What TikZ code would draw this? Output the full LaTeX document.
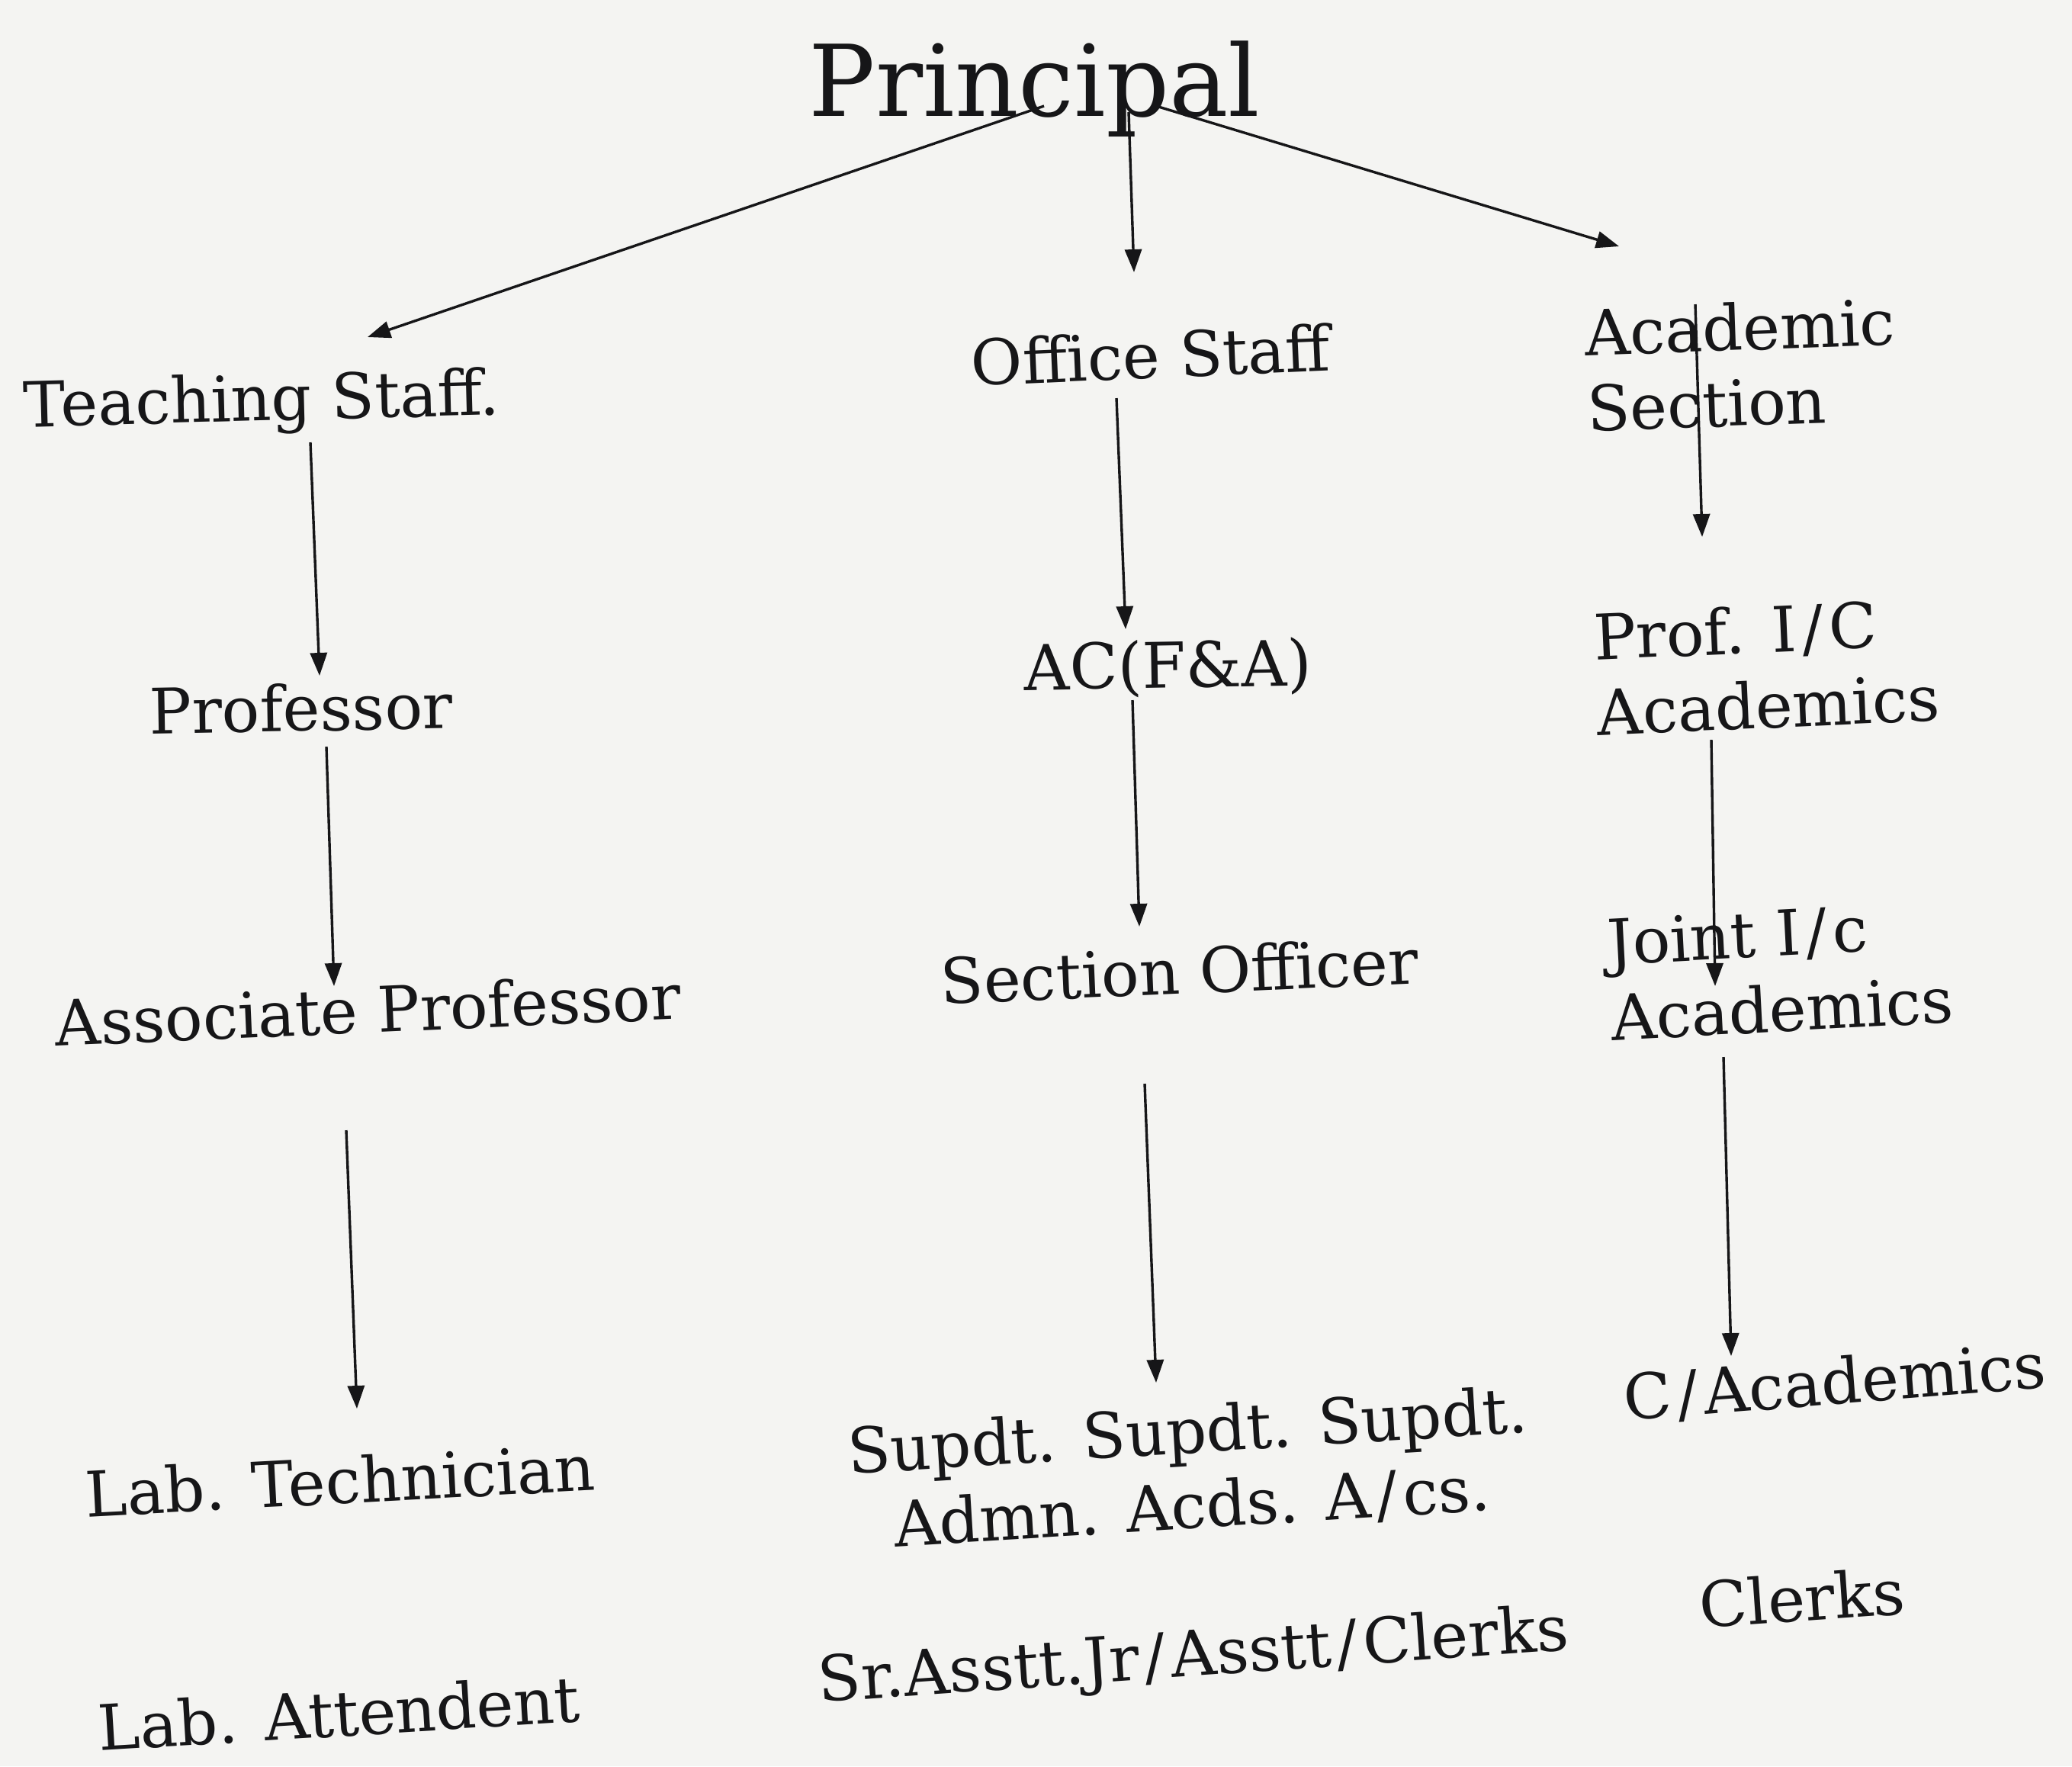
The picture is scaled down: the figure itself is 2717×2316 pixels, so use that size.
\documentclass[tikz,border=0pt]{standalone}
\usepackage{fontspec}
\setmainfont{DejaVu Serif}
\usetikzlibrary{arrows.meta}
\definecolor{paper}{RGB}{244,244,242}
\definecolor{ink}{RGB}{22,22,24}
\newcommand\slsh{\kern1.8pt/\kern1.8pt}
\begin{document}
\begin{tikzpicture}[x=0.25pt,y=-0.25pt,
  lbl/.style={anchor=base west, inner sep=0pt, text=ink, font=\fontsize{20.6}{24.75}\selectfont},
  lbltwo/.style={anchor=north west, inner sep=0pt, text=ink, align=left, font=\fontsize{20.6}{24.75}\selectfont},
  arr/.style={draw=ink, line width=0.85pt, -{Triangle[length=7.5pt,width=5.5pt]}}]
\fill[paper] (0,0) rectangle (2717,2316);
\useasboundingbox (0,0) rectangle (2717,2316);

% labels
\node[lbl, font=\fontsize{32.5}{40}\selectfont] (principal) at (1060,152) {Principal};
\node[lbl, rotate=1.5] (teaching) at (31,560) {Teaching Staff.};
\node[lbl, rotate=2.5] (office) at (1274,506) {Office Staff};
\node[lbltwo, rotate=2] (academic) at (2076,403) {Academic\\Section};
\node[lbl, rotate=1] (prof) at (196,962) {Professor};
\node[lbl, rotate=1] (acfa) at (1343,905) {AC(F\&A)};
\node[lbltwo, rotate=2.5] (profic) at (2088,802) {Prof. I\slsh C\\Academics};
\node[lbl, rotate=2.5] (assoc) at (73,1372) {Associate Professor};
\node[lbl, rotate=2.5] (secoff) at (1234,1317) {Section Officer};
\node[lbltwo, rotate=3] (joint) at (2105,1204) {Joint I\slsh c\\Academics};
\node[lbl, rotate=3] (labtech) at (113,1989) {Lab. Technician};
\node[lbltwo, align=center, anchor=north, rotate=3.5] (supdt) at (1555,1842) {Supdt. Supdt. Supdt.\\Admn. Acds. A\slsh cs.};
\node[lbl, rotate=4.5] (cacad) at (2131,1863) {C\slsh Academics};
\node[lbl, rotate=3.5] (labatt) at (130,2296) {Lab. Attendent};
\node[lbl, rotate=4] (clerksA) at (1074,2232) {Sr.Asstt.Jr\slsh Asstt\slsh Clerks};
\node[lbl, rotate=4] (clerksB) at (2230,2135) {Clerks};

% connector end points
\coordinate (pA) at (1369,139);
\coordinate (tA) at (482,442);
\coordinate (pB) at (1480,147);
\coordinate (oB) at (1487,357);
\coordinate (pC) at (1516,139);
\coordinate (aC) at (2123,323);
\coordinate (t1) at (407,580);
\coordinate (t2) at (419,886);
\coordinate (p1) at (428,979);
\coordinate (p2) at (438,1293);
\coordinate (a1) at (454,1482);
\coordinate (a2) at (468,1847);
\coordinate (o1) at (1464,522);
\coordinate (o2) at (1476,825);
\coordinate (c1) at (1485,918);
\coordinate (c2) at (1494,1215);
\coordinate (s1) at (1501,1421);
\coordinate (s2) at (1516,1813);
\coordinate (k1) at (2223,399);
\coordinate (k2) at (2232,704);
\coordinate (j1) at (2244,970);
\coordinate (j2) at (2249,1293);
\coordinate (m1) at (2260,1386);
\coordinate (m2) at (2270,1778);

% connectors
\draw[arr] (pA) -- (tA);
\draw[arr] (pB) -- (oB);
\draw[arr] (pC) -- (aC);
\draw[arr] (t1) -- (t2);
\draw[arr] (p1) -- (p2);
\draw[arr] (a1) -- (a2);
\draw[arr] (o1) -- (o2);
\draw[arr] (c1) -- (c2);
\draw[arr] (s1) -- (s2);
\draw[arr] (k1) -- (k2);
\draw[arr] (j1) -- (j2);
\draw[arr] (m1) -- (m2);
\end{tikzpicture}
\end{document}
